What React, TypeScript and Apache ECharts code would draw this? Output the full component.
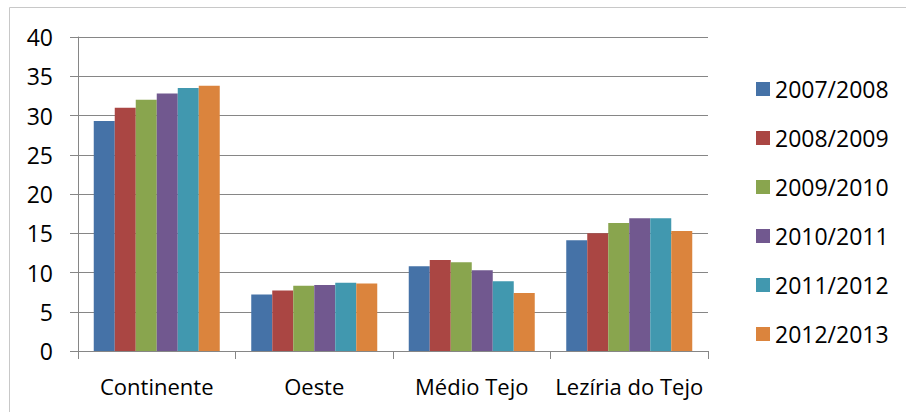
import React, { useEffect, useRef } from "react";
import * as echarts from "echarts";

const categories = ["Continente", "Oeste", "Médio Tejo", "Lezíria do Tejo"];
const seriesNames = ["2007/2008", "2008/2009", "2009/2010", "2010/2011", "2011/2012", "2012/2013"];
const colors = ["#4572A7", "#AA4643", "#89A54E", "#71588F", "#4198AF", "#DB843D"];
const v20072008 = [29.3, 7.2, 10.8, 14.1];
const v20082009 = [31.0, 7.7, 11.6, 15.0];
const v20092010 = [32.0, 8.3, 11.3, 16.3];
const v20102011 = [32.8, 8.4, 10.3, 16.9];
const v20112012 = [33.5, 8.7, 8.9, 16.9];
const v20122013 = [33.8, 8.6, 7.4, 15.3];
const seriesValues = [v20072008, v20082009, v20092010, v20102011, v20112012, v20122013];

const FONT = "Open Sans";

export default function App() {
  const ref = useRef<HTMLDivElement>(null);
  useEffect(() => {
    if (!ref.current) return;
    const chart = echarts.init(ref.current, undefined, { renderer: "svg" });
    chart.setOption({
      animation: false,
      backgroundColor: "#ffffff",
      textStyle: { fontFamily: FONT },
      graphic: [
        {
          type: "rect",
          shape: { x: 9.5, y: 7.5, width: 910, height: 420 },
          style: { fill: "none", stroke: "#c8c8c8", lineWidth: 1 },
          silent: true,
        },
      ],
      grid: { left: 78, right: 198, top: 37, bottom: 61, containLabel: false },
      legend: {
        orient: "vertical",
        left: 751,
        top: 72,
        itemWidth: 14,
        itemHeight: 14,
        itemGap: 25,
        icon: "rect",
        textStyle: { fontFamily: FONT, fontSize: 23, color: "#000", lineHeight: 24 },
        data: seriesNames,
      },
      xAxis: {
        type: "category",
        data: categories,
        axisLine: { show: true, lineStyle: { color: "#868686", width: 1 } },
        axisTick: { show: true, length: 8, alignWithLabel: false, lineStyle: { color: "#868686" } },
        axisLabel: { fontFamily: FONT, fontSize: 22, color: "#000", margin: 24, interval: 0, hideOverlap: false },
      },
      yAxis: {
        type: "value",
        min: 0,
        max: 40,
        interval: 5,
        axisLine: { show: true, lineStyle: { color: "#868686", width: 1 } },
        axisTick: { show: true, length: 8, lineStyle: { color: "#868686" } },
        splitLine: { show: true, lineStyle: { color: "#868686", width: 1 } },
        axisLabel: { fontFamily: FONT, fontSize: 23, color: "#000", margin: 25 },
      },
      series: seriesNames.map((name, i) => ({
        name,
        type: "bar",
        data: seriesValues[i],
        barGap: "0%",
        barCategoryGap: "20%",
        itemStyle: { color: colors[i] },
      })),
    });
    return () => chart.dispose();
  }, []);
  return <div ref={ref} style={{ position: "fixed", left: 0, top: 0, width: 906, height: 412 }} />;
}
